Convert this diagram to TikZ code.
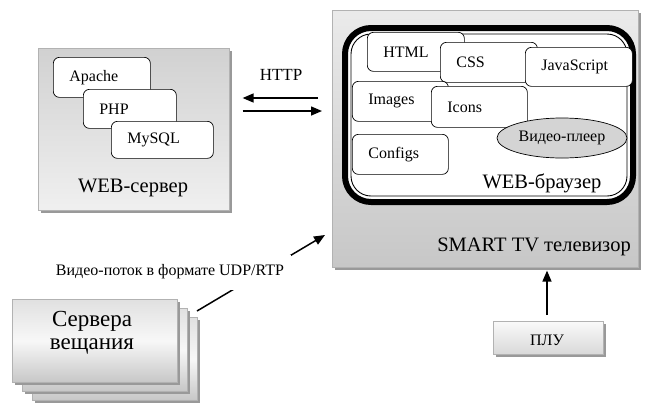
\documentclass[tikz,border=0pt]{standalone}
\usepackage{fontspec}
\setmainfont{Liberation Serif}
\usetikzlibrary{arrows.meta,shadows,shapes.geometric}
\tikzset{
  gbox/.style={draw=black!30, line width=0.6pt, anchor=north west, inner sep=0pt,
    general shadow={fill=black!40, shadow xshift=3pt, shadow yshift=-3pt}},
  inbox/.style={draw, fill=white, rounded corners=6pt, line width=0.7pt, anchor=north west,
    inner xsep=16pt, inner ysep=0pt, align=left, font=\fontsize{16}{18}\selectfont},
  biglbl/.style={font=\fontsize{20.5}{23}\selectfont, inner sep=0pt},
  arr/.style={line width=1.5pt, -{Triangle[length=11pt,width=9pt]}},
}
\begin{document}
\begin{tikzpicture}[x=1pt,y=-1pt]
\useasboundingbox (0,0) rectangle (645,405);

% WEB server
\node[gbox, top color=black!18, bottom color=black!6, minimum width=191pt, minimum height=162pt] (web) at (38,48) {};
\node[inbox, minimum height=40pt, text width=65pt] (apache) at (53,57) {Apache};
\node[inbox, minimum height=39pt, text width=61pt] (php) at (83,89) {PHP};
\node[inbox, minimum height=37pt, text width=70pt] (mysql) at (111,121) {MySQL};
\node[biglbl] (weblbl) at (133,188) {WEB-сервер};

% TV
\node[gbox, top color=black!8, bottom color=black!22, minimum width=306pt, minimum height=257pt] (tv) at (332,10) {};
\node[biglbl] (tvlbl) at (534,247) {SMART TV телевизор};

% Browser
\node[draw, fill=white, line width=6pt, rounded corners=26pt, minimum width=288pt, minimum height=174pt, inner sep=0pt] (br) at (489,115) {};
\node[draw, line width=0.9pt, rounded corners=20pt, minimum width=276pt, minimum height=162pt, inner sep=0pt] (brin) at (br.center) {};
\node[inbox, minimum height=39pt, text width=65pt] (html) at (367,32) {HTML};
\node[inbox, minimum height=40pt, text width=65pt] (css) at (440,42) {CSS};
\node[inbox, minimum height=39pt, text width=75pt] (js) at (525,47) {JavaScript};
\node[inbox, minimum height=40pt, text width=64pt] (img) at (352,81) {Images};
\node[inbox, minimum height=41pt, text width=64pt] (icons) at (431,86) {Icons};
\node[ellipse, draw, fill=black!17, line width=0.7pt, minimum width=130pt, minimum height=40pt, inner sep=0pt, font=\fontsize{16}{18}\selectfont] (vp) at (562,138) {Видео-плеер};
\node[inbox, minimum height=40pt, text width=64pt] (cfg) at (352,134) {Configs};
\node[biglbl] (brlbl) at (542,183) {WEB-браузер};

% HTTP arrows
\coordinate (ya) at (0,98);
\coordinate (yb) at (0,111);
\draw[arr, shorten <=14pt, shorten >=13pt] (tv.west |- ya) -- (web.east |- ya);
\draw[arr, shorten <=13pt, shorten >=10pt] (web.east |- yb) -- (tv.west |- yb);
\node[font=\fontsize{17}{19}\selectfont] (httplbl) at (281,75) {HTTP};

% Broadcast servers
\node[gbox, top color=black!12, bottom color=black!22, middle color=black!3, minimum width=165pt, minimum height=83pt] (s3) at (32,317) {};
\node[gbox, top color=black!12, bottom color=black!22, middle color=black!3, minimum width=165pt, minimum height=83pt] (s2) at (22,308) {};
\node[gbox, top color=black!12, bottom color=black!22, middle color=black!3, minimum width=165pt, minimum height=83pt] (s1) at (12,299) {};
\node[font=\fontsize{23}{23}\selectfont, align=center, inner sep=0pt] (s1lbl) at (92,333) {Сервера\\вещания};

% Video stream arrow
\coordinate (vs) at (197,311);
\coordinate (ve) at (325,235);
\draw[arr] (vs) -- (ve);
\node[fill=white, font=\fontsize{16}{18}\selectfont, minimum height=35pt, inner xsep=7pt, inner ysep=0pt] (udp) at (170,272) {Видео-поток в формате UDP/RTP};

% Remote
\node[gbox, top color=black!2, bottom color=black!15, minimum width=110pt, minimum height=33pt] (pult) at (493,321) {};
\node[font=\fontsize{16}{18}\selectfont, inner sep=0pt] (pultlbl) at (547,340) {ПЛУ};
\draw[arr, shorten <=6pt, shorten >=3pt] (pult.north -| pultlbl) -- (tv.south -| pultlbl);
\end{tikzpicture}
\end{document}
